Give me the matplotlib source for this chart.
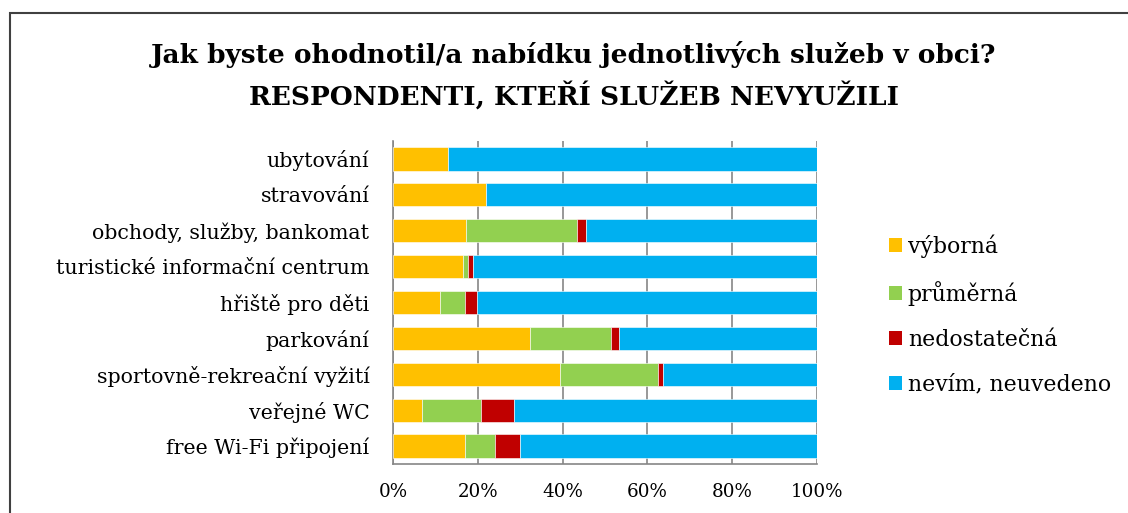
import matplotlib
matplotlib.use("Agg")
import matplotlib.pyplot as plt
from matplotlib.patches import Rectangle, Patch
import numpy as np

categories = ["ubytování", "stravování", "obchody, služby, bankomat",
              "turistické informační centrum", "hřiště pro děti", "parkování",
              "sportovně-rekreační vyžití", "veřejné WC", "free Wi-Fi připojení"]
vyborna = [13.0, 21.9, 17.2, 16.6, 11.0, 32.3, 39.3, 6.9, 16.9]
prumerna = [0.0, 0.0, 26.3, 1.1, 5.9, 19.2, 23.3, 13.8, 7.1]
nedostatecna = [0.0, 0.0, 2.0, 1.1, 3.0, 1.9, 1.0, 7.9, 5.9]
nevim = [100 - a - b - c for a, b, c in zip(vyborna, prumerna, nedostatecna)]
series_names = ["výborná", "průměrná", "nedostatečná", "nevím, neuvedeno"]
colors = ["#FFC000", "#92D050", "#C00000", "#00B0F0"]
xticks = [0, 20, 40, 60, 80, 100]
xticklabels = ["0%", "20%", "40%", "60%", "80%", "100%"]

plt.rcParams['font.family'] = ['DejaVu Serif']

W, H = 1128, 513
fig = plt.figure(figsize=(W / 100, H / 100), dpi=100)

# outer frame
fig.patches.append(Rectangle((10 / W, -0.1), 1.2, 1 - 13 / H + 0.1, transform=fig.transFigure,
                             fill=False, edgecolor="#404040", linewidth=1.5))

ax = fig.add_axes([393 / W, 1 - 464 / H, (817 - 393) / W, (464 - 141) / H])
y = np.arange(len(categories))
left = np.zeros(len(categories))
for vals, name, col in zip([vyborna, prumerna, nedostatecna, nevim], series_names, colors):
    ax.barh(y, vals, left=left, height=0.65, color=col, label=name,
            edgecolor="white", linewidth=0.4, zorder=3)
    left += np.array(vals)

ax.set_xlim(0, 100)
ax.set_ylim(len(categories) - 0.5, -0.5)
ax.set_yticks(y)
ax.set_yticklabels(categories, fontsize=14.8)
ax.set_xticks(xticks)
ax.set_xticklabels(xticklabels, fontsize=13.2)
ax.tick_params(axis='y', length=0, pad=17)
ax.tick_params(axis='x', length=0, pad=14)
ax.grid(axis='x', color="#868686", linewidth=1.2, zorder=0)
for s in ["top", "right"]:
    ax.spines[s].set_visible(False)
for s in ["left", "bottom"]:
    ax.spines[s].set_color("#868686")
    ax.spines[s].set_linewidth(1.2)

fig.text(574 / W, 1 - 55 / H, "Jak byste ohodnotil/a nabídku jednotlivých služeb v obci?",
         ha="center", va="center", fontsize=19, fontweight="bold")
fig.text(574 / W, 1 - 95 / H, "RESPONDENTI, KTEŘÍ SLUŽEB NEVYUŽILI",
         ha="center", va="center", fontsize=19, fontweight="bold")

handles = [Patch(facecolor=c, edgecolor="none") for c in colors]
fig.legend(handles, series_names, loc="center left", bbox_to_anchor=(869 / W, 1 - 315 / H),
           frameon=False, fontsize=15.8, handlelength=0.62, handleheight=0.62,
           handletextpad=0.25, labelspacing=1.05)

fig.savefig("out.png", dpi=100)
